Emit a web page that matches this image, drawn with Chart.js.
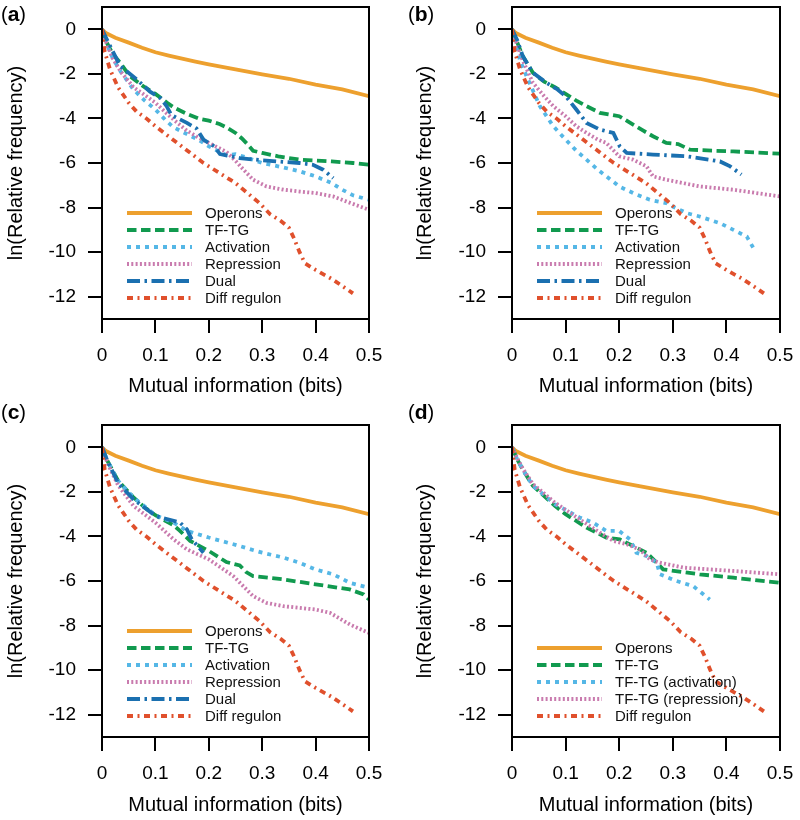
<!DOCTYPE html>
<html>
<head>
<meta charset="utf-8">
<script src="https://cdn.jsdelivr.net/npm/chart.js@4.4.1/dist/chart.umd.min.js"></script>
<style>
  body { margin: 0; background: #fff; }
  #wrap { position: relative; width: 800px; height: 820px; }
  canvas { position: absolute; }
</style>
</head>
<body>
<div id="wrap">
  <canvas id="pa"></canvas>
  <canvas id="pb"></canvas>
  <canvas id="pc"></canvas>
  <canvas id="pd"></canvas>
</div>
<script>
// axis ticks
const xTicks = [0, 0.1, 0.2, 0.3, 0.4, 0.5];
const yTicks = [0, -2, -4, -6, -8, -10, -12];

// shared curves (same in every panel)
const operons = [[0,0],[0.005,-0.12],[0.01,-0.2],[0.025,-0.38],[0.05,-0.6],[0.075,-0.83],[0.1,-1.03],[0.125,-1.18],[0.15,-1.32],[0.175,-1.45],[0.2,-1.57],[0.25,-1.8],[0.3,-2.02],[0.35,-2.22],[0.4,-2.48],[0.45,-2.7],[0.5,-3.0]];
const diffRegulon = [[0,0],[0.005,-1.0],[0.015,-1.8],[0.03,-2.6],[0.05,-3.3],[0.065,-3.7],[0.083,-4.0],[0.1,-4.35],[0.13,-4.9],[0.16,-5.45],[0.19,-6.0],[0.22,-6.45],[0.25,-6.9],[0.27,-7.3],[0.295,-7.8],[0.315,-8.3],[0.335,-8.6],[0.35,-8.9],[0.36,-9.4],[0.37,-10.0],[0.38,-10.5],[0.4,-10.8],[0.43,-11.2],[0.455,-11.6],[0.47,-11.85]];

// panel (a)
const aTfTg = [[0,0],[0.009,-0.6],[0.02,-1.1],[0.034,-1.5],[0.052,-2.1],[0.077,-2.55],[0.1,-2.9],[0.122,-3.3],[0.134,-3.5],[0.159,-3.8],[0.18,-4.0],[0.2,-4.1],[0.22,-4.25],[0.233,-4.4],[0.25,-4.65],[0.262,-4.9],[0.272,-5.15],[0.283,-5.45],[0.3,-5.55],[0.33,-5.7],[0.37,-5.85],[0.43,-5.93],[0.47,-6.0],[0.5,-6.08]];
const aAct = [[0,0],[0.008,-0.6],[0.02,-1.3],[0.035,-1.9],[0.059,-2.7],[0.08,-3.2],[0.1,-3.6],[0.12,-4.1],[0.134,-4.4],[0.159,-4.7],[0.18,-4.95],[0.2,-5.25],[0.233,-5.65],[0.25,-5.6],[0.27,-5.75],[0.3,-6.0],[0.34,-6.2],[0.37,-6.37],[0.4,-6.6],[0.43,-6.9],[0.45,-7.2],[0.47,-7.45],[0.5,-7.65]];
const aRep = [[0,0],[0.008,-0.6],[0.02,-1.3],[0.035,-1.9],[0.059,-2.6],[0.08,-2.95],[0.1,-3.3],[0.12,-3.75],[0.134,-4.05],[0.159,-4.55],[0.18,-4.85],[0.2,-5.1],[0.233,-5.5],[0.25,-5.9],[0.265,-6.3],[0.283,-6.75],[0.308,-7.05],[0.34,-7.2],[0.37,-7.28],[0.4,-7.35],[0.433,-7.5],[0.46,-7.75],[0.5,-8.1]];
const aDual = [[0,0],[0.009,-0.45],[0.034,-1.65],[0.065,-2.25],[0.09,-2.8],[0.11,-3.1],[0.121,-3.45],[0.13,-3.85],[0.159,-4.2],[0.177,-4.45],[0.19,-4.95],[0.21,-5.25],[0.221,-5.6],[0.258,-5.78],[0.3,-5.88],[0.37,-6.0],[0.395,-6.08],[0.414,-6.3],[0.433,-6.68]];

// panel (b)
const bTfTg = [[0,0],[0.01,-0.6],[0.02,-1.2],[0.039,-1.95],[0.06,-2.35],[0.08,-2.6],[0.1,-2.9],[0.12,-3.2],[0.139,-3.45],[0.164,-3.75],[0.2,-3.9],[0.226,-4.28],[0.245,-4.55],[0.263,-4.8],[0.288,-5.1],[0.31,-5.15],[0.332,-5.4],[0.38,-5.45],[0.413,-5.48],[0.5,-5.58]];
const bAct = [[0,0],[0.008,-0.8],[0.015,-1.4],[0.027,-2.1],[0.04,-2.8],[0.052,-3.45],[0.077,-4.35],[0.1,-4.95],[0.12,-5.45],[0.139,-5.85],[0.16,-6.3],[0.176,-6.6],[0.2,-7.05],[0.226,-7.35],[0.257,-7.65],[0.288,-7.8],[0.3,-7.95],[0.326,-8.25],[0.35,-8.4],[0.388,-8.7],[0.413,-9.0],[0.438,-9.3],[0.45,-9.8]];
const bRep = [[0,0],[0.008,-0.6],[0.02,-1.4],[0.039,-2.4],[0.06,-3.0],[0.077,-3.45],[0.1,-3.9],[0.12,-4.35],[0.139,-4.65],[0.16,-4.95],[0.176,-5.1],[0.2,-5.7],[0.226,-5.85],[0.251,-6.15],[0.263,-6.6],[0.288,-6.75],[0.35,-7.05],[0.413,-7.2],[0.5,-7.5]];
const bDual = [[0,0],[0.01,-0.5],[0.02,-1.2],[0.039,-1.95],[0.064,-2.4],[0.085,-2.7],[0.1,-3.0],[0.12,-3.6],[0.139,-4.2],[0.164,-4.5],[0.189,-4.65],[0.201,-5.25],[0.214,-5.55],[0.263,-5.62],[0.326,-5.7],[0.388,-5.93],[0.407,-6.15],[0.428,-6.52]];

// panel (c)
const cTfTg = [[0,0],[0.01,-0.6],[0.03,-1.5],[0.059,-2.25],[0.08,-2.7],[0.1,-3.05],[0.134,-3.5],[0.146,-3.75],[0.165,-4.2],[0.2,-4.65],[0.233,-5.15],[0.258,-5.3],[0.27,-5.6],[0.283,-5.78],[0.34,-5.93],[0.4,-6.15],[0.464,-6.38],[0.49,-6.6],[0.5,-6.83]];
const cAct = [[0,0],[0.01,-0.6],[0.03,-1.5],[0.059,-2.25],[0.1,-3.05],[0.134,-3.38],[0.159,-3.75],[0.2,-4.05],[0.246,-4.35],[0.3,-4.73],[0.34,-4.95],[0.37,-5.18],[0.4,-5.48],[0.433,-5.7],[0.464,-6.08],[0.5,-6.3]];
const cRep = [[0,0],[0.01,-0.7],[0.03,-1.7],[0.059,-2.63],[0.1,-3.38],[0.134,-4.13],[0.159,-4.58],[0.2,-5.03],[0.246,-5.78],[0.283,-6.68],[0.308,-6.98],[0.34,-7.13],[0.4,-7.28],[0.427,-7.43],[0.464,-7.95],[0.5,-8.33]];
const cDual = [[0,0],[0.01,-0.6],[0.03,-1.6],[0.059,-2.33],[0.1,-3.08],[0.146,-3.38],[0.159,-3.68],[0.168,-4.13],[0.19,-4.73]];

// panel (d)
const dTfTg = [[0,0],[0.01,-0.55],[0.02,-1.0],[0.039,-1.73],[0.08,-2.63],[0.1,-3.0],[0.139,-3.6],[0.176,-4.05],[0.201,-4.13],[0.226,-4.43],[0.251,-4.73],[0.27,-5.18],[0.282,-5.48],[0.35,-5.7],[0.413,-5.85],[0.5,-6.08]];
const dAct = [[0,0],[0.01,-0.55],[0.02,-1.0],[0.039,-1.73],[0.08,-2.55],[0.126,-3.15],[0.151,-3.38],[0.176,-3.75],[0.2,-3.75],[0.22,-4.13],[0.232,-4.73],[0.251,-4.88],[0.27,-5.18],[0.276,-5.7],[0.307,-6.0],[0.338,-6.23],[0.369,-6.83]];
const dRep = [[0,0],[0.01,-0.5],[0.02,-0.95],[0.039,-1.65],[0.08,-2.48],[0.126,-3.23],[0.164,-3.83],[0.189,-4.2],[0.214,-4.35],[0.238,-4.58],[0.257,-5.03],[0.276,-5.18],[0.32,-5.4],[0.413,-5.55],[0.5,-5.7]];

// line styles
const styles = {
  operons: { color: '#EDA02E', dash: [] },
  tftg:    { color: '#119A4F', dash: [9.5, 4.5] },
  act:     { color: '#55B7E6', dash: [4, 5] },
  rep:     { color: '#C97BAE', dash: [2, 2.3] },
  dual:    { color: '#1B70B0', dash: [13, 4.5, 2.5, 4.5] },
  diff:    { color: '#E0502C', dash: [6, 4.5, 2, 4.5] },
};

const FONT = "'Liberation Sans', Arial, Helvetica, sans-serif";

const panels = [
  { id: 'pa', tag: 'a', left: 0, top: 0, w: 400, h: 400, area: [102, 7, 369, 319], yPad: 4, xPad: 1.5, labelX: 1, labelY: 21,
    series: [['Operons', operons, 'operons'], ['TF-TG', aTfTg, 'tftg'], ['Activation', aAct, 'act'], ['Repression', aRep, 'rep'], ['Dual', aDual, 'dual'], ['Diff regulon', diffRegulon, 'diff']] },
  { id: 'pb', tag: 'b', left: 406, top: 0, w: 394, h: 400, area: [106, 7, 374, 319], yPad: 7, xPad: 1.5, labelX: 2, labelY: 21,
    series: [['Operons', operons, 'operons'], ['TF-TG', bTfTg, 'tftg'], ['Activation', bAct, 'act'], ['Repression', bRep, 'rep'], ['Dual', bDual, 'dual'], ['Diff regulon', diffRegulon, 'diff']] },
  { id: 'pc', tag: 'c', left: 0, top: 400, w: 400, h: 420, area: [102, 25, 369, 337], yPad: 4, xPad: 3, labelX: 1, labelY: 19,
    series: [['Operons', operons, 'operons'], ['TF-TG', cTfTg, 'tftg'], ['Activation', cAct, 'act'], ['Repression', cRep, 'rep'], ['Dual', cDual, 'dual'], ['Diff regulon', diffRegulon, 'diff']] },
  { id: 'pd', tag: 'd', left: 406, top: 400, w: 394, h: 420, area: [106, 25, 374, 337], yPad: 7, xPad: 3, labelX: 2, labelY: 19,
    series: [['Operons', operons, 'operons'], ['TF-TG', dTfTg, 'tftg'], ['TF-TG (activation)', dAct, 'act'], ['TF-TG (repression)', dRep, 'rep'], ['Diff regulon', diffRegulon, 'diff']] },
];

// box around the plot + panel tag + legend inside the plot
const decor = {
  id: 'decor',
  afterDatasetsDraw(chart, args, opts) {
    const { ctx, chartArea: a } = chart;
    ctx.save();
    ctx.strokeStyle = '#000';
    ctx.lineWidth = 2;
    ctx.strokeRect(a.left, a.top, a.right - a.left, a.bottom - a.top);

    // legend
    const ds = chart.data.datasets;
    const n = ds.length;
    ctx.font = '15px ' + FONT;
    ctx.textBaseline = 'middle';
    ctx.textAlign = 'left';
    ds.forEach((d, i) => {
      const y = a.top + 291 - (n - 1 - i) * 17;
      ctx.beginPath();
      ctx.setLineDash(d.borderDash);
      ctx.lineCap = 'butt';
      ctx.lineWidth = d.borderWidth;
      ctx.strokeStyle = d.borderColor;
      ctx.moveTo(a.left + 25, y);
      ctx.lineTo(a.left + 90, y);
      ctx.stroke();
      ctx.setLineDash([]);
      ctx.fillStyle = '#111';
      ctx.fillText(d.label, a.left + 103, y + 0.5);
    });

    // panel tag like "(a)"
    ctx.textBaseline = 'alphabetic';
    ctx.fillStyle = '#000';
    let x = opts.labelX;
    const parts = [['(', '20px '], [opts.tag, 'bold 21px '], [')', '20px ']];
    parts.forEach(([t, f]) => {
      ctx.font = f + FONT;
      ctx.fillText(t, x, opts.labelY);
      x += ctx.measureText(t).width;
    });
    ctx.restore();
  }
};

panels.forEach(p => {
  const cv = document.getElementById(p.id);
  cv.width = p.w; cv.height = p.h;
  cv.style.left = p.left + 'px'; cv.style.top = p.top + 'px';
  cv.style.width = p.w + 'px'; cv.style.height = p.h + 'px';
  const n = p.series.length;
  const [aL, aT, aR, aB] = p.area;

  new Chart(cv.getContext('2d'), {
    type: 'line',
    data: {
      datasets: p.series.map(([label, pts, kind], i) => ({
        label,
        data: pts.map(([x, y]) => ({ x, y })),
        borderColor: styles[kind].color,
        borderDash: styles[kind].dash,
        borderWidth: 3.8,
        borderCapStyle: 'butt',
        pointRadius: 0,
        tension: 0,
        fill: false,
        order: n - i,
      })),
    },
    options: {
      responsive: false,
      animation: false,
      events: [],
      layout: { padding: { left: 0, top: aT, right: p.w - aR, bottom: 0 } },
      plugins: {
        legend: { display: false },
        tooltip: { enabled: false },
        decor: { tag: p.tag, labelX: p.labelX, labelY: p.labelY },
      },
      scales: {
        x: {
          type: 'linear',
          min: 0, max: 0.5,
          afterBuildTicks: s => { s.ticks = xTicks.map(v => ({ value: v })); },
          afterFit: s => { s.height = p.h - aB; s.paddingLeft = 0; s.paddingRight = 0; },
          ticks: { color: '#000', font: { family: FONT, size: 19 }, padding: 11, maxRotation: 0, autoSkip: false,
                   callback: v => String(v) },
          grid: { drawOnChartArea: false, drawTicks: true, tickLength: 14, color: '#000', lineWidth: 2 },
          border: { display: false },
          title: { display: true, text: 'Mutual information (bits)', color: '#000',
                   font: { family: FONT, size: 20 }, padding: { top: 0, bottom: p.xPad } },
        },
        y: {
          type: 'linear',
          min: -13, max: 1,
          afterBuildTicks: s => { s.ticks = yTicks.map(v => ({ value: v })); },
          afterFit: s => { s.width = aL; s.paddingTop = 0; s.paddingBottom = 0; },
          ticks: { color: '#000', font: { family: FONT, size: 19 }, padding: 12, autoSkip: false,
                   callback: v => String(v) },
          grid: { drawOnChartArea: false, drawTicks: true, tickLength: 14, color: '#000', lineWidth: 2 },
          border: { display: false },
          title: { display: true, text: 'ln(Relative frequency)', color: '#000',
                   font: { family: FONT, size: 20 }, padding: { top: p.yPad, bottom: 0 } },
        },
      },
    },
    plugins: [decor],
  });
});
</script>
</body>
</html>
